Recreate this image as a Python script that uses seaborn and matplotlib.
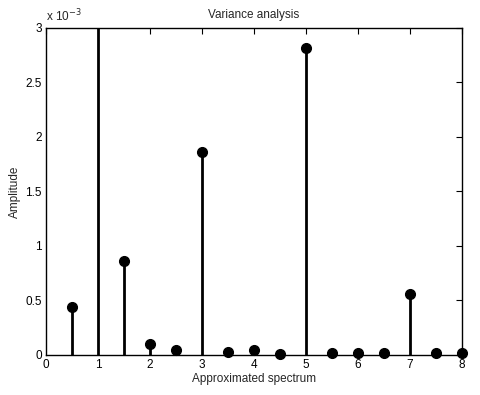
import matplotlib
matplotlib.use("Agg")
import matplotlib.pyplot as plt
import seaborn as sns
import numpy as np
from matplotlib.ticker import FuncFormatter
from matplotlib.patches import Rectangle

sns.set_style("white")
plt.rcParams['font.family'] = ['Liberation Sans', 'DejaVu Sans']

freq = [0.5, 1.0, 1.5, 2.0, 2.5, 3.0, 3.5, 4.0, 4.5, 5.0, 5.5, 6.0, 6.5, 7.0, 7.5, 8.0]
amplitude = [0.44e-3, 4.5e-3, 0.86e-3, 0.10e-3, 0.045e-3, 1.86e-3, 0.027e-3, 0.045e-3,
             0.005e-3, 2.82e-3, 0.018e-3, 0.015e-3, 0.015e-3, 0.56e-3, 0.015e-3, 0.015e-3]
xticks = [0, 1, 2, 3, 4, 5, 6, 7, 8]
yticks = [0, 0.5e-3, 1e-3, 1.5e-3, 2e-3, 2.5e-3, 3e-3]

fig = plt.figure(figsize=(4.8, 3.95), dpi=100)
ax = fig.add_axes([0.0958, 0.1013, 0.8667, 0.828])

markerline, stemlines, baseline = ax.stem(freq, amplitude, basefmt=" ")
plt.setp(stemlines, color="black", linewidth=2)
plt.setp(markerline, color="black", markersize=7)
clip = Rectangle((-0.05, -0.05), 1.1, 1.05, transform=ax.transAxes, visible=False)
ax.add_patch(clip)
markerline.set_clip_path(clip)
markerline.set_zorder(3)

ax.set_xlim(0, 8)
ax.set_ylim(0, 3e-3)
ax.set_xticks(xticks)
ax.set_yticks(yticks)
ax.yaxis.set_major_formatter(FuncFormatter(lambda v, p: f"{v*1e3:g}"))
ax.tick_params(direction="in", top=True, right=True, length=4, width=0.8,
               labelsize=8.5, colors="black", pad=3)
for s in ax.spines.values():
    s.set_visible(True)
    s.set_color("black")
    s.set_linewidth(1)

ax.set_title("Variance analysis", fontsize=8.5, pad=7)
ax.set_xlabel("Approximated spectrum", fontsize=8.5, labelpad=1)
ax.set_ylabel("Amplitude", fontsize=8.5, labelpad=3)
ax.text(0.0, 1.012, "x 10$^{-3}$", transform=ax.transAxes, fontsize=8.5, ha="left", va="bottom")

fig.savefig("out.png", dpi=100, facecolor="white")
